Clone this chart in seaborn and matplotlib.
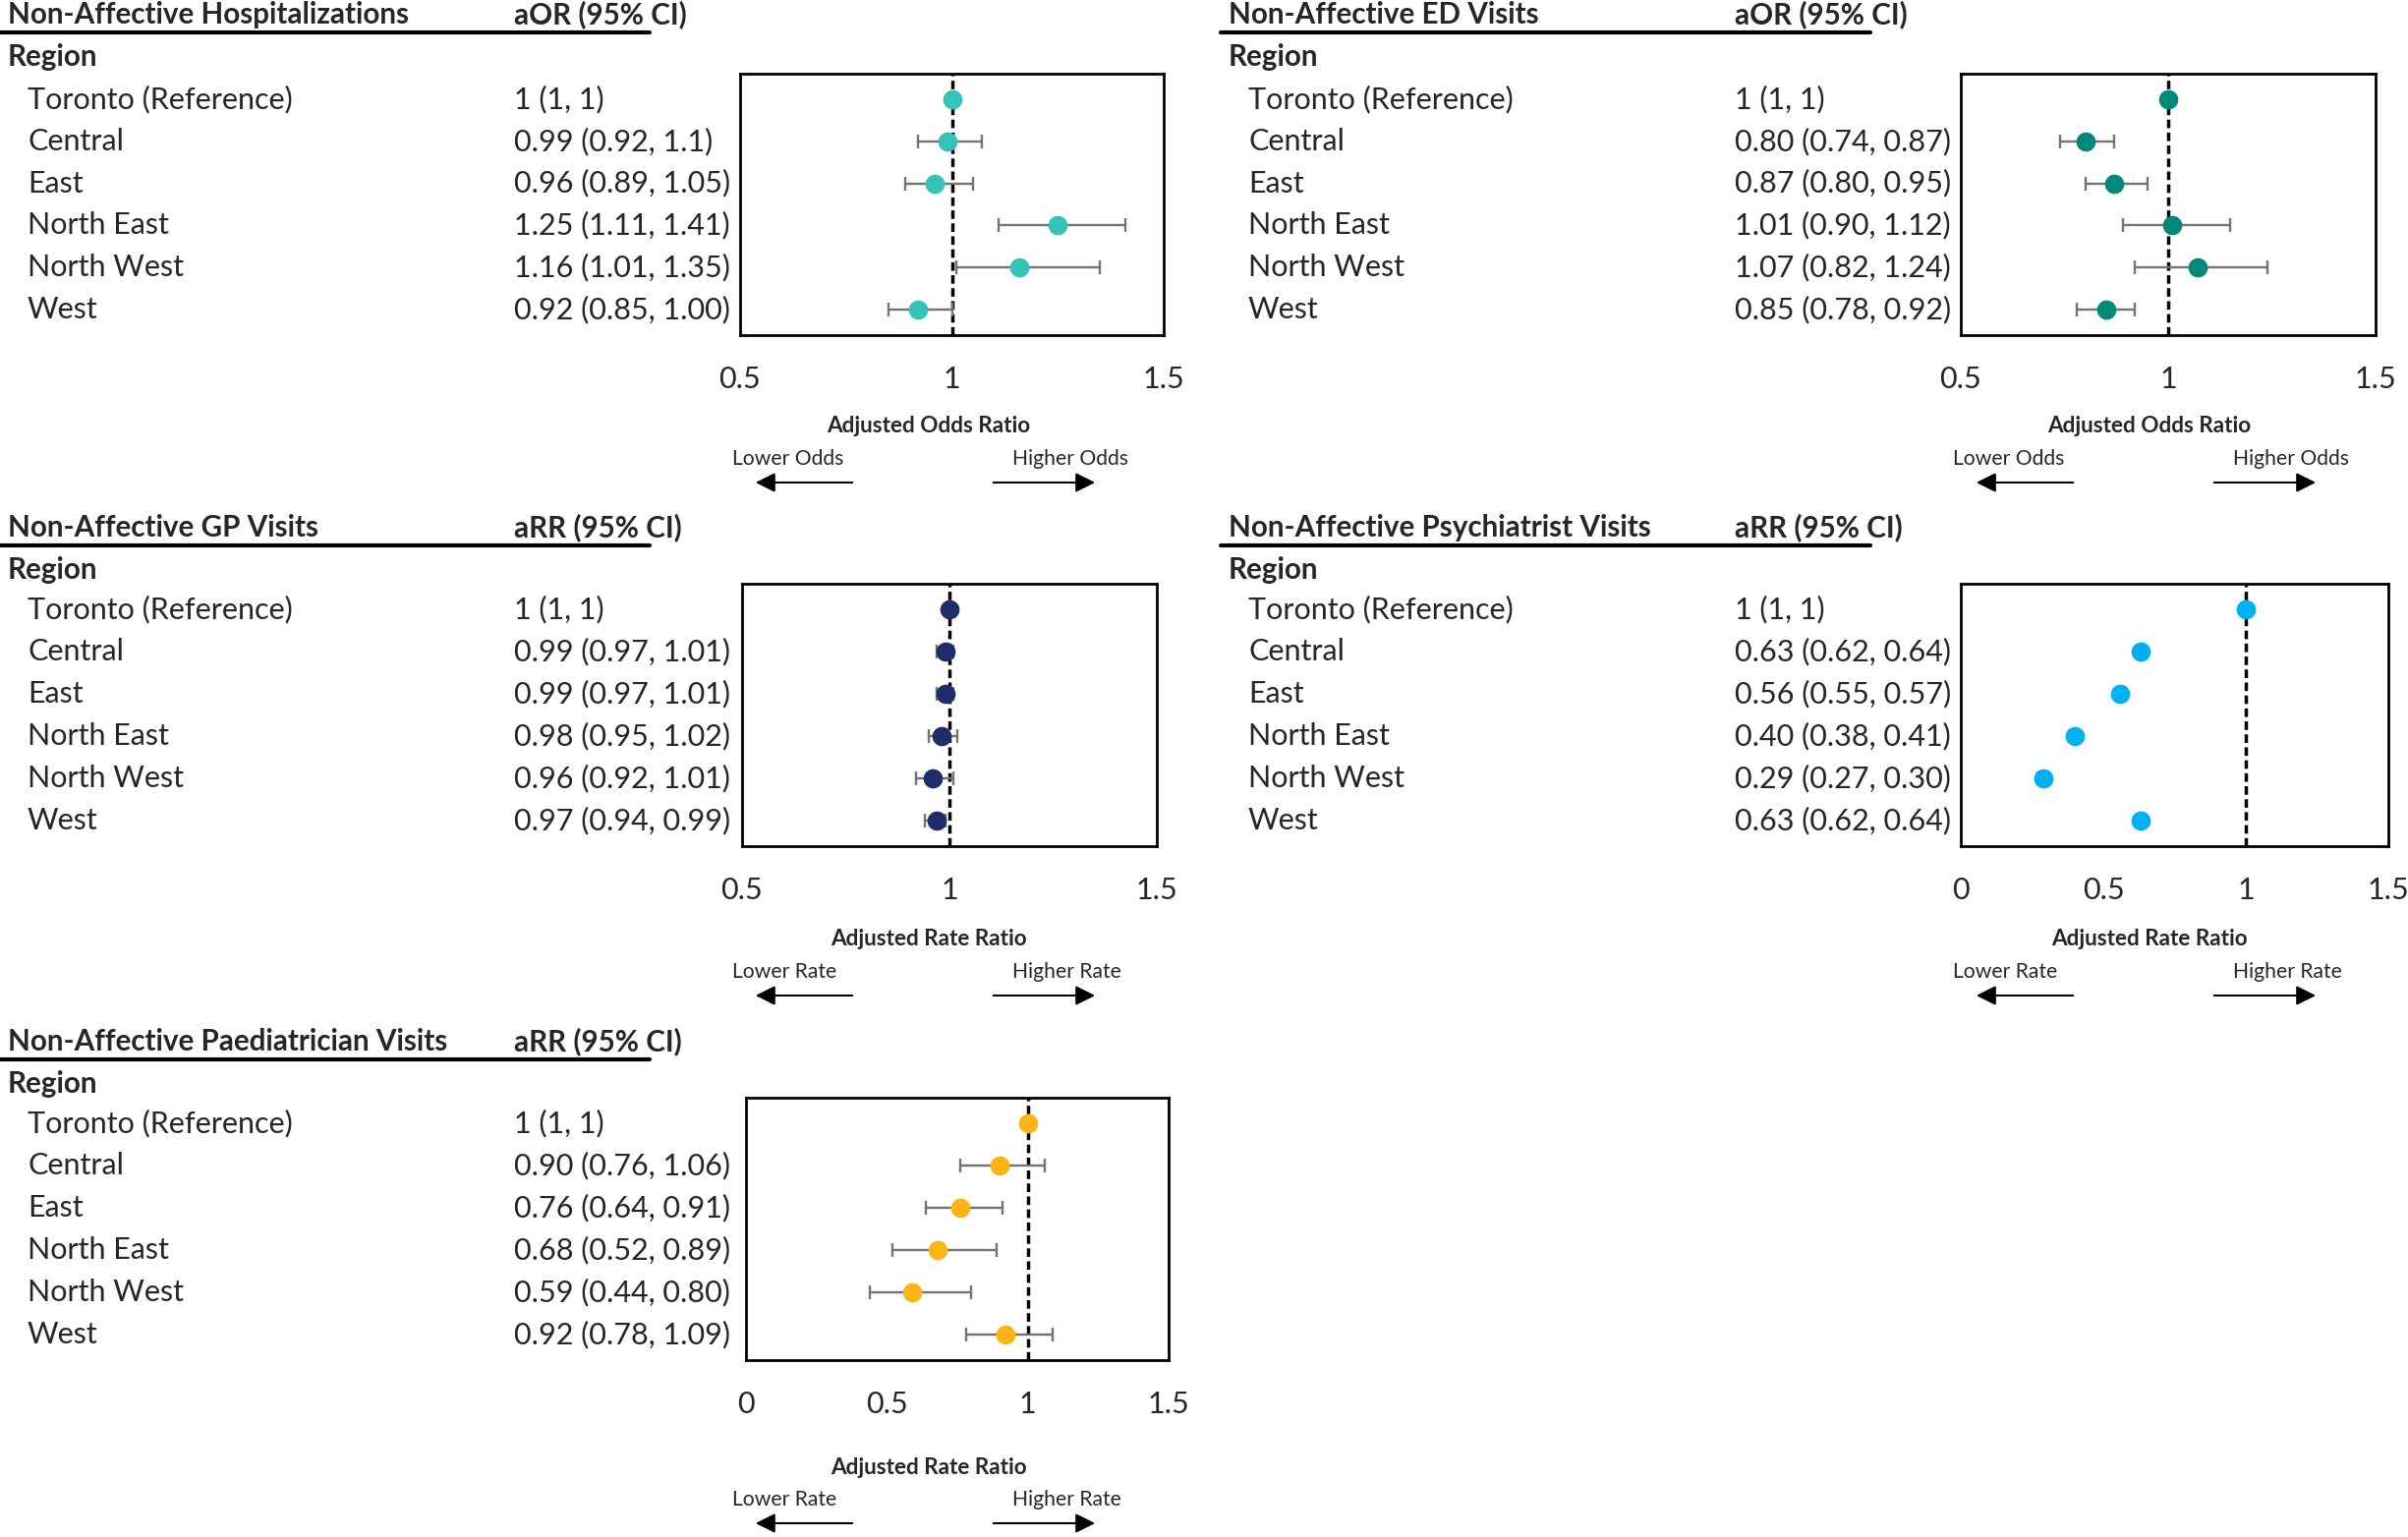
import numpy as np
import pandas as pd
import seaborn as sns
import matplotlib.pyplot as plt
import matplotlib.transforms as mtransforms
from matplotlib.lines import Line2D
from matplotlib.patches import FancyArrowPatch

# regions shared by all five panels
regions = ["Toronto (Reference)", "Central", "East", "North East", "North West", "West"]

# hospitalizations (aOR)
hosp_est = [1, 0.99, 0.96, 1.25, 1.16, 0.92]
hosp_lo = [1, 0.92, 0.89, 1.11, 1.01, 0.85]
hosp_hi = [1, 1.07, 1.05, 1.41, 1.35, 1.00]
hosp_txt = ["1 (1, 1)", "0.99 (0.92, 1.1)", "0.96 (0.89, 1.05)", "1.25 (1.11, 1.41)",
            "1.16 (1.01, 1.35)", "0.92 (0.85, 1.00)"]

# ED visits (aOR)
ed_est = [1, 0.80, 0.87, 1.01, 1.07, 0.85]
ed_lo = [1, 0.74, 0.80, 0.89, 0.92, 0.78]
ed_hi = [1, 0.87, 0.95, 1.15, 1.24, 0.92]
ed_txt = ["1 (1, 1)", "0.80 (0.74, 0.87)", "0.87 (0.80, 0.95)", "1.01 (0.90, 1.12)",
          "1.07 (0.82, 1.24)", "0.85 (0.78, 0.92)"]

# GP visits (aRR)
gp_est = [1, 0.99, 0.99, 0.98, 0.96, 0.97]
gp_lo = [1, 0.97, 0.97, 0.95, 0.92, 0.94]
gp_hi = [1, 1.01, 1.01, 1.02, 1.01, 0.99]
gp_txt = ["1 (1, 1)", "0.99 (0.97, 1.01)", "0.99 (0.97, 1.01)", "0.98 (0.95, 1.02)",
          "0.96 (0.92, 1.01)", "0.97 (0.94, 0.99)"]

# psychiatrist visits (aRR)
psy_est = [1, 0.63, 0.56, 0.40, 0.29, 0.63]
psy_lo = [1, 0.62, 0.55, 0.38, 0.27, 0.62]
psy_hi = [1, 0.64, 0.57, 0.41, 0.30, 0.64]
psy_txt = ["1 (1, 1)", "0.63 (0.62, 0.64)", "0.56 (0.55, 0.57)", "0.40 (0.38, 0.41)",
           "0.29 (0.27, 0.30)", "0.63 (0.62, 0.64)"]

# paediatrician visits (aRR)
paed_est = [1, 0.90, 0.76, 0.68, 0.59, 0.92]
paed_lo = [1, 0.76, 0.64, 0.52, 0.44, 0.78]
paed_hi = [1, 1.06, 0.91, 0.89, 0.80, 1.09]
paed_txt = ["1 (1, 1)", "0.90 (0.76, 1.06)", "0.76 (0.64, 0.91)", "0.68 (0.52, 0.89)",
            "0.59 (0.44, 0.80)", "0.92 (0.78, 1.09)"]

sns.set_style("white")
plt.rcParams['font.family'] = ['Lato', 'DejaVu Sans']

W, H = 2450, 1564
fig = plt.figure(figsize=(W / 100, H / 100), dpi=100)

ROW_FS = 22
TITLE_FS = 21.3
LABEL_FS = 16.2
SMALL_FS = 15.2


def fx(x):
    return x / W


def fy(y):
    return 1 - y / H


def forest_panel(x0, y0, title, head, est, lo, hi, txt, color, box, xlim, xticks,
                 xlabel, word, foot_dy=0):
    # table header
    fig.text(fx(x0 + 8), fy(y0 + 15), title, weight='bold', size=TITLE_FS, va='center')
    fig.text(fx(x0 + 523), fy(y0 + 15), head, weight='bold', size=TITLE_FS, va='center')
    fig.add_artist(Line2D([fx(x0), fx(x0 + 661)], [fy(y0 + 33)] * 2, color='black', lw=3))
    fig.text(fx(x0 + 8), fy(y0 + 58), "Region", weight='bold', size=TITLE_FS, va='center')

    bx0, bx1, by0, by1 = box
    ax = fig.add_axes([fx(x0 + bx0), fy(y0 + by1), (bx1 - bx0) / W, (by1 - by0) / H])

    df = pd.DataFrame({'region': regions, 'est': est, 'lo': lo, 'hi': hi})
    df['pos'] = np.arange(len(df))

    ax.axvline(1, color='black', ls=(0, (2.5, 1.3)), lw=2.5, zorder=1)
    ax.errorbar(df['est'], df['pos'], xerr=[df['est'] - df['lo'], df['hi'] - df['est']],
                fmt='none', ecolor='#737373', elinewidth=1.7, capsize=4.8, capthick=1.7, zorder=2)
    sns.scatterplot(data=df, x='est', y='pos', color=color, s=200, linewidth=0,
                    zorder=3, ax=ax, legend=False)

    ax.set_xlim(xlim)
    ax.set_ylim(5.6, -0.6)
    ax.set_xticks(xticks)
    ax.set_xticklabels([f"{t:g}" for t in xticks])
    ax.set_yticks([])
    ax.set_xlabel("")
    ax.set_ylabel("")
    ax.tick_params(axis='x', length=0, pad=22, labelsize=ROW_FS)
    for sp in ax.spines.values():
        sp.set_visible(True)
        sp.set_color('black')
        sp.set_linewidth(2)

    # row labels and estimates, aligned to the data rows
    trans = mtransforms.blended_transform_factory(fig.transFigure, ax.transData)
    for i, (r, t) in enumerate(zip(regions, txt)):
        ax.text(fx(x0 + 28), i, r, transform=trans, size=ROW_FS, va='center', clip_on=False)
        ax.text(fx(x0 + 523), i, t, transform=trans, size=ROW_FS, va='center', clip_on=False)

    # footer: axis title and direction arrows
    fig.text(fx(x0 + 945), fy(y0 + 434 + foot_dy), xlabel, weight='bold', size=LABEL_FS,
             ha='center', va='center')
    fig.text(fx(x0 + 745), fy(y0 + 467 + foot_dy), "Lower " + word, size=SMALL_FS, va='center')
    fig.text(fx(x0 + 1030), fy(y0 + 467 + foot_dy), "Higher " + word, size=SMALL_FS, va='center')
    ay = fy(y0 + 491 + foot_dy)
    for xs, xe in [(870, 766), (1008, 1117)]:
        fig.add_artist(FancyArrowPatch((fx(x0 + xs), ay), (fx(x0 + xe), ay),
                                       transform=fig.transFigure,
                                       arrowstyle='-|>,head_length=1.0,head_width=0.5',
                                       mutation_scale=12, color='black', lw=1.5))
    return ax


forest_panel(0, 0, "Non-Affective Hospitalizations", "aOR (95% CI)",
             hosp_est, hosp_lo, hosp_hi, hosp_txt, '#33c3b8',
             (753, 1184, 75, 341), (0.5, 1.5), [0.5, 1, 1.5], "Adjusted Odds Ratio", "Odds")
forest_panel(1242, 0, "Non-Affective ED Visits", "aOR (95% CI)",
             ed_est, ed_lo, ed_hi, ed_txt, '#00897b',
             (753, 1175, 75, 341), (0.5, 1.5), [0.5, 1, 1.5], "Adjusted Odds Ratio", "Odds")
forest_panel(0, 522, "Non-Affective GP Visits", "aRR (95% CI)",
             gp_est, gp_lo, gp_hi, gp_txt, '#1f2d6b',
             (755, 1177, 72, 339), (0.5, 1.5), [0.5, 1, 1.5], "Adjusted Rate Ratio", "Rate")
forest_panel(1242, 522, "Non-Affective Psychiatrist Visits", "aRR (95% CI)",
             psy_est, psy_lo, psy_hi, psy_txt, '#00b0f0',
             (753, 1188, 72, 339), (0, 1.5), [0, 0.5, 1, 1.5], "Adjusted Rate Ratio", "Rate")
forest_panel(0, 1045, "Non-Affective Paediatrician Visits", "aRR (95% CI)",
             paed_est, paed_lo, paed_hi, paed_txt, '#fdb515',
             (759, 1189, 72, 339), (0, 1.5), [0, 0.5, 1, 1.5], "Adjusted Rate Ratio", "Rate",
             foot_dy=14)

plt.savefig('out.png', dpi=100, facecolor='white')
